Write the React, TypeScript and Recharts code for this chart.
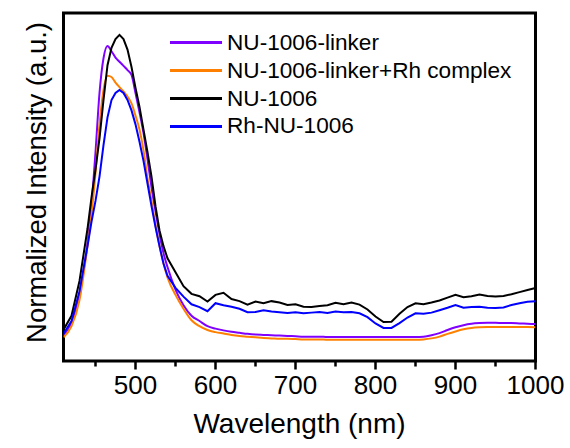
import { LineChart, Line, XAxis, YAxis, Legend, ReferenceArea } from 'recharts';

const FONT = '"Liberation Sans", Arial, sans-serif';

// emission wavelength grid (nm)
const wavelengths = [
  410, 420, 430,
  440, 445, 450, 455, 460, 465, 470, 475, 480, 485, 490, 495, 500, 505, 510, 515, 520, 525, 530, 535, 540,
  550, 560, 570, 580, 590, 600, 610, 620, 630, 640, 650, 660, 670, 680, 690, 700, 710, 720, 730, 740,
  750, 760, 770, 780, 790, 800, 810, 820, 830, 840, 850, 860, 870, 880, 890, 900, 910, 920, 930, 940,
  950, 960, 970, 980, 990, 1000,
];

// normalized intensities, one value per wavelength
const linker = [
  0.072, 0.11, 0.195,
  0.34, 0.45, 0.6, 0.77, 0.87, 0.905, 0.89, 0.872, 0.86, 0.848, 0.836, 0.822, 0.77, 0.715, 0.655, 0.58, 0.5, 0.43, 0.365, 0.31, 0.27,
  0.205, 0.16, 0.13, 0.115, 0.1, 0.093, 0.088, 0.084, 0.081, 0.078, 0.076, 0.075, 0.074, 0.073, 0.072, 0.071, 0.07, 0.07, 0.07, 0.069,
  0.069, 0.069, 0.069, 0.069, 0.069, 0.069, 0.069, 0.069, 0.069, 0.069, 0.069, 0.07, 0.074, 0.08, 0.089, 0.097, 0.103, 0.107, 0.109, 0.11,
  0.11, 0.109, 0.109, 0.108, 0.107, 0.106,
];

const linkerRh = [
  0.068, 0.1, 0.175,
  0.33, 0.42, 0.54, 0.68, 0.78, 0.82, 0.816, 0.8, 0.787, 0.775, 0.76, 0.74, 0.705, 0.665, 0.605, 0.525, 0.46, 0.39, 0.33, 0.28, 0.24,
  0.19, 0.15, 0.117, 0.1, 0.089, 0.083, 0.079, 0.075, 0.072, 0.07, 0.068, 0.066, 0.065, 0.064, 0.064, 0.063, 0.062, 0.062, 0.062, 0.061,
  0.061, 0.061, 0.061, 0.061, 0.061, 0.061, 0.061, 0.061, 0.061, 0.061, 0.061, 0.062, 0.065, 0.07, 0.078, 0.085, 0.091, 0.095, 0.097, 0.098,
  0.098, 0.098, 0.098, 0.098, 0.098, 0.097,
];

const nu1006 = [
  0.09, 0.13, 0.23,
  0.38, 0.47, 0.55, 0.64, 0.75, 0.85, 0.9, 0.925, 0.937, 0.925, 0.895, 0.845, 0.785, 0.73, 0.665, 0.6, 0.53, 0.445, 0.375, 0.33, 0.295,
  0.255, 0.215, 0.193, 0.186, 0.171, 0.19, 0.196, 0.178, 0.172, 0.162, 0.171, 0.166, 0.172, 0.168, 0.161, 0.163, 0.156, 0.155, 0.158, 0.16,
  0.167, 0.163, 0.168, 0.162, 0.148, 0.128, 0.112, 0.113, 0.136, 0.155, 0.166, 0.163, 0.168, 0.174, 0.182, 0.19, 0.183, 0.186, 0.191, 0.187,
  0.185, 0.187, 0.192, 0.198, 0.204, 0.21,
];

const rhNu1006 = [
  0.078, 0.115, 0.2,
  0.33, 0.4, 0.46, 0.53, 0.62, 0.7, 0.75, 0.77, 0.779, 0.77, 0.75, 0.72, 0.68, 0.63, 0.575, 0.51, 0.445, 0.385, 0.33, 0.28, 0.245,
  0.21, 0.185, 0.163, 0.155, 0.143, 0.166, 0.16, 0.156, 0.15, 0.14, 0.141, 0.146, 0.142, 0.14, 0.138, 0.14, 0.137, 0.139, 0.141, 0.138,
  0.142, 0.14, 0.141, 0.137, 0.126, 0.108, 0.095, 0.095, 0.109, 0.125, 0.137, 0.136, 0.139, 0.146, 0.153, 0.161, 0.153, 0.155, 0.156, 0.153,
  0.152, 0.154, 0.161, 0.166, 0.17, 0.172,
];

const xTicks = [450, 500, 550, 600, 650, 700, 750, 800, 850, 900, 950, 1000];

const series = [
  { key: 'linker', name: 'NU-1006-linker', color: '#8000ff', type: 'monotone' },
  { key: 'linkerRh', name: 'NU-1006-linker+Rh complex', color: '#ff8000', type: 'monotone' },
  { key: 'nu1006', name: 'NU-1006', color: '#000000', type: 'linear' },
  { key: 'rhNu1006', name: 'Rh-NU-1006', color: '#0000ff', type: 'linear' },
];

const data = wavelengths.map((wl, i) => ({
  wl,
  linker: linker[i],
  linkerRh: linkerRh[i],
  nu1006: nu1006[i],
  rhNu1006: rhNu1006[i],
}));

// hundreds get a long mark and a label, fifties only a short mark
const WaveTick = (props: any) => {
  const { x, y, payload } = props;
  const major = payload.value % 100 === 0;
  return (
    <g>
      <rect x={x - 1.25} y={y} width={2.5} height={major ? 8.5 : 5.5} fill="#000" />
      {major && (
        <text x={x} y={y + 33} textAnchor="middle" fontSize={26} fontFamily={FONT} fill="#000">
          {payload.value}
        </text>
      )}
    </g>
  );
};

// both axis titles, drawn through the x axis label slot
const AxisTitles = () => (
  <g>
    <text x={299.5} y={433} textAnchor="middle" fontSize={28} fontFamily={FONT} fill="#000">
      Wavelength (nm)
    </text>
    <text
      x={36.5}
      y={182.5}
      transform="rotate(-90, 36.5, 182.5)"
      textAnchor="middle"
      dominantBaseline="central"
      fontSize={27.5}
      fontFamily={FONT}
      fill="#000"
    >
      Normalized Intensity (a.u.)
    </text>
  </g>
);

const LegendBox = () => (
  <div style={{ fontFamily: FONT, fontSize: 22.6, color: '#000' }}>
    {series.map((s) => (
      <div key={s.key} style={{ display: 'flex', alignItems: 'center', height: 27.8, whiteSpace: 'nowrap' }}>
        <span style={{ display: 'inline-block', width: 52, height: 3, background: s.color, marginRight: 5 }} />
        <span style={{ lineHeight: '27.8px' }}>{s.name}</span>
      </div>
    ))}
  </div>
);

export default function App() {
  return (
    <div style={{ position: 'absolute', left: 0, top: 0, fontFamily: FONT, background: '#fff' }}>
      <LineChart width={570} height={448} data={data} margin={{ top: 13, right: 34.5, left: 63.5, bottom: 0 }}>
        <XAxis
          dataKey="wl"
          type="number"
          domain={[410, 1000]}
          ticks={xTicks}
          interval={0}
          allowDataOverflow
          height={87}
          tickSize={0}
          tickMargin={0}
          tickLine={false}
          tick={<WaveTick />}
          axisLine={false}
          label={<AxisTitles />}
        />
        <YAxis domain={[0, 1]} hide />
        <Legend
          layout="vertical"
          align="center"
          verticalAlign="middle"
          content={<LegendBox />}
          wrapperStyle={{ left: 170, top: 29, width: 'auto' }}
        />
        {series.map((s) => (
          <Line
            key={s.key}
            type={s.type as any}
            dataKey={s.key}
            name={s.name}
            stroke={s.color}
            strokeWidth={2}
            dot={false}
            activeDot={false}
            isAnimationActive={false}
          />
        ))}
        {/* plot frame */}
        <ReferenceArea
          x1={410}
          x2={1000}
          y1={0}
          y2={1}
          ifOverflow="visible"
          fill="none"
          fillOpacity={0}
          stroke="#000"
          strokeWidth={3}
        />
      </LineChart>
    </div>
  );
}
